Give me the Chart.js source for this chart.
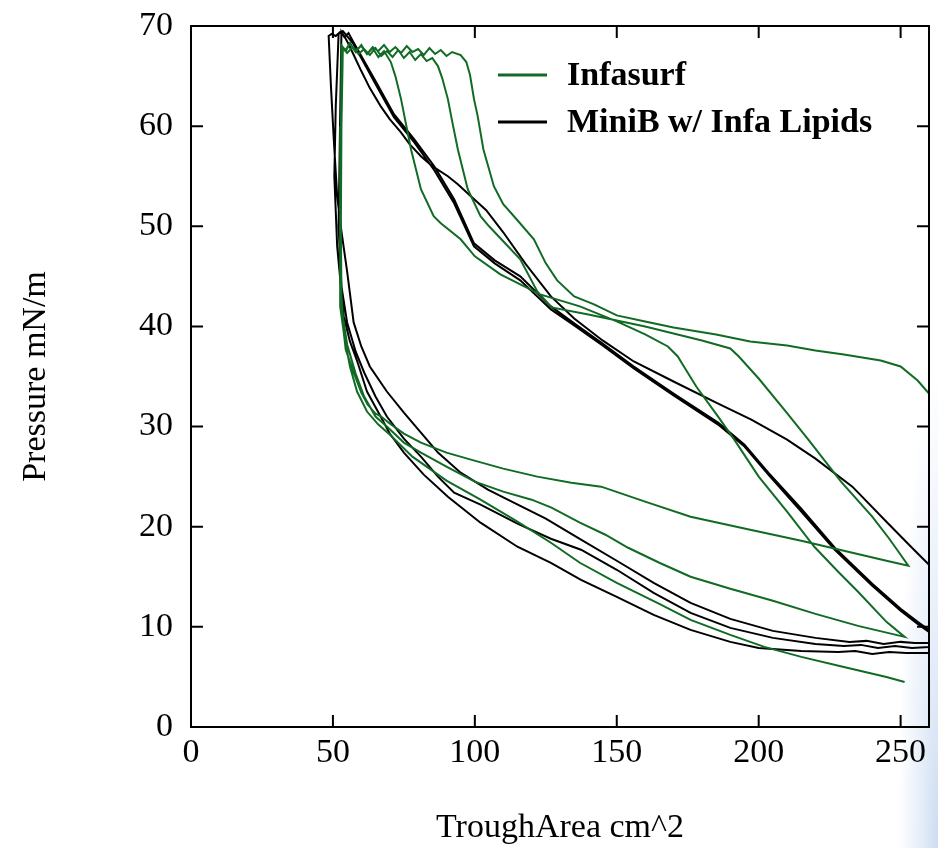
<!DOCTYPE html>
<html>
<head>
<meta charset="utf-8">
<title>Pressure vs TroughArea</title>
<script src="https://cdn.jsdelivr.net/npm/chart.js@4.4.1/dist/chart.umd.min.js"></script>
<style>
  html, body { margin: 0; padding: 0; }
  body {
    width: 938px; height: 848px; overflow: hidden;
    background: radial-gradient(ellipse 40px 480px at 938px 848px, #cddcf1 0%, #e9f0fa 50%, rgba(255,255,255,0) 100%), #fff;
  }
  canvas { display: block; }
</style>
</head>
<body>
<canvas id="chart" width="938" height="848"></canvas>
<script>
// tick values
const xTicks = [0, 50, 100, 150, 200, 250];
const yTicks = [0, 10, 20, 30, 40, 50, 60, 70];

// Infasurf: compression / expansion cycles  [area, pressure]
const infaComp1 = [[260,33.3],[256,34.6],[250,36.0],[243,36.6],[230,37.2],[220,37.6],[210,38.1],[197,38.5],[185,39.2],[170,39.9],[160,40.5],[150,41.1],[142,42.2],[135,43.0],[129,44.6],[125,46.3],[120.8,48.7],[115,50.6],[110,52.2],[106.7,54.0],[104.5,56.2],[103,57.7],[101,61.0],[99.7,62.7],[98.3,65.1],[97,66.4],[95,67.1],[92,67.4],[90,67.0],[88,67.6],[86,67.2],[84,67.8],[82,67.1],[80,67.7],[78,67.4],[76,68.0],[74,67.3],[72,67.9],[70,67.4],[68,68.1],[66,67.5],[64,67.9],[62,67.2],[60,68.0],[58,67.6],[56,68.2],[54.5,67.5],[53.2,68.0]];
const infaExp1  = [[52.8,60],[52.6,50],[52.5,42],[53,41.5],[54.5,37.7],[57.3,35.4],[60,33.4],[62.2,32.2],[65,31.3],[67,31.0],[70,30.3],[75,29.3],[81,28.4],[90,27.4],[98.6,26.7],[110,25.8],[122,25.0],[134,24.4],[144.5,24.0],[160,22.5],[176,21.0],[197,19.7],[215,18.6],[230,17.6],[245,16.6],[252.7,16.1]];
const infaComp2 = [[252.7,16.1],[250,17.2],[246,18.8],[240,21.0],[229,24.5],[217.5,28.7],[209,31.7],[200,34.8],[193,37.0],[190,37.8],[180,38.6],[170,39.3],[160,40.0],[150,40.6],[140,41.2],[127,41.9],[122,43.5],[116,46.7],[110,48.5],[105,50.0],[102,51.0],[97.5,53.7],[94,57.7],[92,60.5],[90.5,62.7],[88.5,64.8],[87,66.0],[85,66.8],[83,66.5],[81,67.2],[79,66.6],[77,67.4],[75,66.8],[73,67.6],[71,66.9],[69,67.5],[67,67.0],[65,67.8],[63,67.1],[61,67.7],[59,67.2],[57,67.9],[55,67.3],[53.5,67.8]];
const infaExp2  = [[53,60],[52.8,50],[53,43],[53.5,41],[55,38.2],[58,35.3],[61,33.0],[65,31.0],[69,30.0],[75,28.4],[81,27.4],[90,26.0],[100,24.5],[110,23.5],[120,22.7],[127,21.9],[137,20.4],[146,19.2],[154,17.9],[165,16.4],[176,15.0],[190,13.8],[205,12.6],[220,11.3],[235,10.1],[251.4,9.0]];
const infaComp3 = [[251.4,9.0],[245,10.5],[235,13.5],[228,15.5],[219.6,18.0],[210,21.5],[200,25.0],[191.4,28.7],[185.7,31.0],[178,34.0],[173,36.3],[171.5,37.0],[168,38.0],[160,39.2],[150,40.5],[137,42.0],[123,43.2],[109,45.2],[100,47.0],[95,48.7],[88,50.3],[85.5,51.0],[81,53.7],[77.5,57.7],[74,62.7],[72,65.0],[70.4,66.4],[68,67.5],[66,66.9],[64,67.8],[62,67.2],[60,68.1],[58,67.4],[56,68.3],[54.5,67.6],[53,68.0]];
const infaExp3  = [[52.8,58],[52.5,48],[52.6,42],[54,39.0],[56,36.0],[58.5,33.5],[62,31.5],[66,30.2],[70,29.2],[78,27.0],[90,24.6],[102,22.7],[115,20.5],[126.8,18.4],[137,16.4],[150,14.4],[165,12.3],[176,10.7],[190,9.2],[202,8.0],[215,7.0],[230,6.0],[245,5.0],[251.4,4.5]];

// MiniB w/ Infa Lipids
const minibComp1 = [[260,16.2],[254,17.9],[245,20.5],[233,24.0],[220,26.8],[210,28.7],[197.4,30.7],[185,32.4],[170,34.5],[156,36.5],[145,38.6],[135,40.8],[126.8,43.0],[118,46.2],[110,49.4],[104,51.6],[98.6,53.0],[94,54.2],[90.5,55.0],[85,56.0],[81,57.0],[77,58.2],[73.9,59.4],[70,60.7],[66.8,62.0],[63,63.8],[60,65.5],[57.5,67.0],[55.5,68.2],[54,69.0],[52.5,69.4],[51,69.0],[49.5,69.2],[48.5,69.0]];
const minibExp1  = [[49.3,64],[50.3,58.7],[51.5,53],[53,49.5],[55,45.5],[57.3,40.4],[60,38.0],[63,36.0],[69,33.5],[75,31.4],[81,29.4],[87,27.4],[95,25.4],[104.6,23.7],[111.6,22.7],[125,20.8],[137.4,18.7],[150,16.6],[163,14.4],[176,12.4],[190,10.8],[205,9.6],[220,8.9],[232,8.5],[238,8.6],[244,8.3],[250,8.5],[255,8.4],[260,8.4]];
const minibComp2 = [[260,8.4],[260,9.7],[256,10.5],[250,11.8],[240,14.3],[226.8,17.9],[215,21.8],[203.4,25.4],[195,28.2],[185.7,30.4],[170,33.3],[156,36.0],[145,38.3],[135,40.3],[126.8,42.0],[116,45.0],[107,46.6],[99.7,48.3],[92.7,52.7],[85.7,56.0],[78.6,58.7],[71.5,61.2],[65,64.5],[60,67.0],[57,68.5],[55.5,69.3],[54,68.9],[53,69.4]];
const minibExp2  = [[52.5,60],[52,50],[53,44],[55,40.4],[58,37.5],[61,35.4],[65,33.0],[69,31.0],[75,28.8],[81,27.0],[87,25.0],[92.7,23.4],[102,22.2],[115,20.3],[126.8,18.8],[137.4,17.7],[150,15.7],[163,13.4],[176,11.4],[190,9.9],[205,8.9],[220,8.3],[230,8.1],[236,8.2],[242,7.9],[248,8.1],[254,7.9],[260,8.0]];
const minibComp3 = [[260,8.0],[260,9.5],[256,10.3],[250,11.6],[240,14.1],[226.8,17.7],[215,21.5],[203.4,25.2],[195,28.0],[185.7,30.2],[170,33.1],[156,35.8],[145,38.1],[135,40.1],[126.8,41.7],[116,44.6],[107,46.3],[99.7,48.0],[92.7,52.3],[85.7,55.6],[78.6,58.4],[71.5,60.9],[65,64.2],[60,66.8],[57,68.3],[55,69.0],[53.5,69.5],[52,69.2]];
const minibExp3  = [[51,62],[50.5,55],[51.5,48],[53.8,41],[56,38.5],[58.7,36.4],[62,33.5],[66.8,31.0],[70,29.3],[75,27.4],[82,25.2],[90.5,23.0],[102,20.4],[115,18.0],[126.8,16.4],[137.4,14.7],[150,13.0],[163,11.2],[176,9.7],[190,8.5],[200,7.9],[215,7.6],[228,7.5],[234,7.6],[240,7.3],[246,7.5],[252,7.4],[260,7.4]];

const seriesNames  = ["Infasurf", "MiniB w/ Infa Lipids"];
const seriesColors = ["#116b24", "#000000"];

const toPts = (...parts) => parts.flat().map(([x, y]) => ({ x, y }));

const infaPts  = toPts(infaComp1, infaExp1, infaComp2, infaExp2, infaComp3, infaExp3);
const minibPts = toPts(minibComp1, minibExp1, minibComp2, minibExp2, minibComp3, minibExp3);

const FONT = "'Liberation Serif', 'Times New Roman', serif";

// frame, inward ticks on all four sides, and the legend inside the plot
const frameTicks = {
  id: "frameTicks",
  afterDraw(chart) {
    const { ctx, chartArea: a, scales: { x, y } } = chart;
    const len = 12;
    ctx.save();
    ctx.strokeStyle = "#000";
    ctx.lineWidth = 2;
    ctx.strokeRect(a.left, a.top, a.right - a.left, a.bottom - a.top);
    ctx.beginPath();
    xTicks.forEach(v => {
      const px = x.getPixelForValue(v);
      ctx.moveTo(px, a.bottom); ctx.lineTo(px, a.bottom - len);
      ctx.moveTo(px, a.top);    ctx.lineTo(px, a.top + len);
    });
    yTicks.forEach(v => {
      const py = y.getPixelForValue(v);
      ctx.moveTo(a.left, py);  ctx.lineTo(a.left + len, py);
      ctx.moveTo(a.right, py); ctx.lineTo(a.right - len, py);
    });
    ctx.stroke();

    // legend
    const lx = a.left + 307, ly = a.top + 49, gap = 47;
    ctx.font = "bold 34px " + FONT;
    ctx.textBaseline = "middle";
    seriesNames.forEach((name, i) => {
      const yy = ly + i * gap;
      ctx.strokeStyle = seriesColors[i];
      ctx.lineWidth = 3;
      ctx.beginPath(); ctx.moveTo(lx, yy); ctx.lineTo(lx + 49, yy); ctx.stroke();
      ctx.fillStyle = "#000";
      ctx.fillText(name, lx + 69, yy + 1);
    });
    ctx.restore();
  }
};

new Chart(document.getElementById("chart"), {
  type: "line",
  data: {
    datasets: [
      { label: seriesNames[0], data: infaPts,  borderColor: seriesColors[0], borderWidth: 2, pointRadius: 0, tension: 0 },
      { label: seriesNames[1], data: minibPts, borderColor: seriesColors[1], borderWidth: 2, pointRadius: 0, tension: 0 }
    ]
  },
  options: {
    responsive: false,
    animation: false,
    layout: { padding: { top: 26, right: 9, left: 0, bottom: 0 } },
    plugins: { legend: { display: false }, tooltip: { enabled: false } },
    scales: {
      x: {
        type: "linear", min: 0, max: 260,
        afterBuildTicks: s => { s.ticks = xTicks.map(v => ({ value: v })); },
        afterFit: s => { s.height = 121; s.paddingLeft = 0; s.paddingRight = 0; },
        grid: { display: false, drawTicks: false },
        border: { display: false },
        ticks: { color: "#000", font: { family: FONT, size: 34 }, padding: 6, maxRotation: 0 },
        title: { display: true, text: "TroughArea cm^2", color: "#000", font: { family: FONT, size: 34 }, padding: 0 }
      },
      y: {
        type: "linear", min: 0, max: 70,
        afterBuildTicks: s => { s.ticks = yTicks.map(v => ({ value: v })); },
        afterFit: s => { s.width = 191; s.paddingTop = 0; s.paddingBottom = 0; },
        grid: { display: false, drawTicks: false },
        border: { display: false },
        ticks: { color: "#000", font: { family: FONT, size: 34 }, padding: 18 },
        title: { display: true, text: "Pressure mN/m", color: "#000", font: { family: FONT, size: 34 }, padding: { top: 16, bottom: 0 } }
      }
    }
  },
  plugins: [frameTicks]
});
</script>
</body>
</html>
